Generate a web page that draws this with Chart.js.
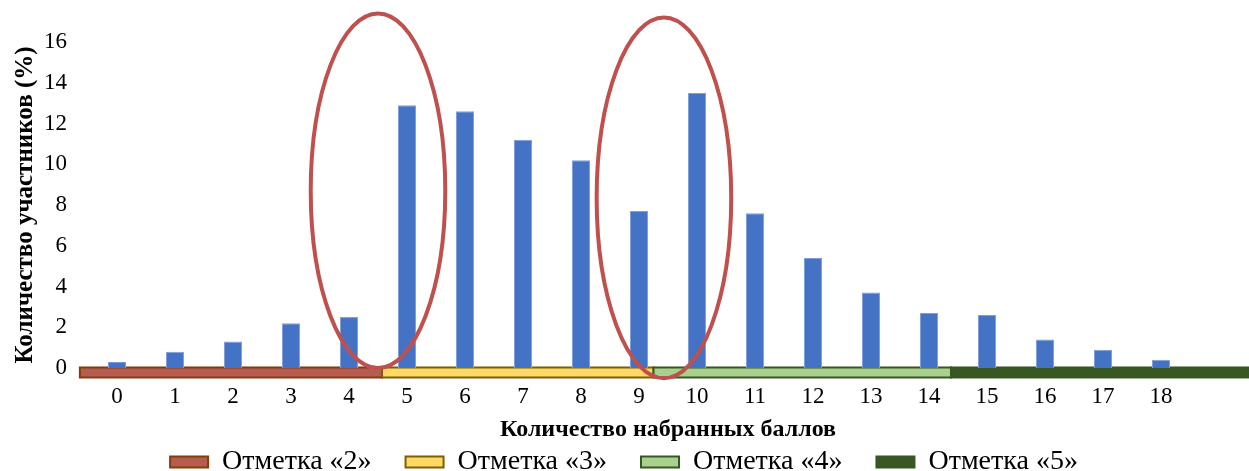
<!DOCTYPE html>
<html>
<head>
<meta charset="utf-8">
<script src="https://cdn.jsdelivr.net/npm/chart.js@4.4.1/dist/chart.umd.min.js"></script>
<style>
  html, body { margin: 0; padding: 0; background: #fff; }
  #chart-container { width: 1249px; height: 471px; }
</style>
</head>
<body>
<div id="chart-container"><canvas id="grafico"></canvas></div>
<script>
// datos del gráfico
const puntajes = ["0","1","2","3","4","5","6","7","8","9","10","11","12","13","14","15","16","17","18",""]
const participantes = [0.3, 0.8, 1.3, 2.2, 2.5, 12.9, 12.6, 11.2, 10.2, 7.7, 13.5, 7.6, 5.4, 3.7, 2.7, 2.6, 1.4, 0.9, 0.4]
const ticksY = [0, 2, 4, 6, 8, 10, 12, 14, 16]

// franjas de notas (en unidades del eje de puntajes)
const notas = ["Отметка «2»", "Отметка «3»", "Отметка «4»", "Отметка «5»"]
const notaDesde = [-0.64, 4.57, 9.25, 14.38]
const notaHasta = [4.57, 9.25, 14.38, 19.5]
const notaNivel = -0.22
const notaRelleno = ["#B65D51", "#FFD966", "#A9D18E", "#385723"]
const notaBorde = ["#843C0C", "#7F6000", "#385723", "#375623"]

// elipses rojas
const elipseX = [4.5, 9.43]
const elipseY = [8.7, 8.35]
const elipseRx = [1.16, 1.16]
const elipseRy = [8.7, 8.85]

const fuente = "'Liberation Serif', 'Times New Roman', serif"

//plugin para franjas y elipses
const pluginFranjas = {
    id: "franjas",
    beforeDatasetsDraw(chart) {
        const ctx = chart.ctx
        const x = chart.scales.xb
        const y = chart.scales.y
        const yc = y.getPixelForValue(notaNivel)
        ctx.save()
        notas.forEach((n, i) => {
            const x1 = x.getPixelForValue(notaDesde[i])
            const x2 = x.getPixelForValue(notaHasta[i])
            ctx.fillStyle = notaRelleno[i]
            ctx.strokeStyle = notaBorde[i]
            ctx.lineWidth = 2
            ctx.fillRect(x1, yc - 5, x2 - x1, 10)
            ctx.strokeRect(x1, yc - 5, x2 - x1, 10)
        })
        ctx.restore()
    },
    afterDatasetsDraw(chart) {
        const ctx = chart.ctx
        const x = chart.scales.xb
        const y = chart.scales.y
        ctx.save()
        ctx.strokeStyle = "#C0504D"
        ctx.lineWidth = 4
        elipseX.forEach((cx, i) => {
            const px = x.getPixelForValue(cx)
            const py = y.getPixelForValue(elipseY[i])
            const rx = Math.abs(x.getPixelForValue(cx + elipseRx[i]) - px)
            const ry = Math.abs(y.getPixelForValue(elipseY[i] + elipseRy[i]) - py)
            ctx.beginPath()
            ctx.ellipse(px, py, rx, ry, 0, 0, Math.PI * 2)
            ctx.stroke()
        })
        ctx.restore()
    }
}

const datasets = [{
    type: "bar",
    label: "Участники",
    data: participantes,
    backgroundColor: "#4472C4",
    borderColor: "#7F9FDB",
    borderWidth: 1,
    categoryPercentage: 1,
    barPercentage: 0.31
}]
notas.forEach((n, i) => {
    datasets.push({
        type: "line",
        label: n,
        data: [],
        backgroundColor: notaRelleno[i],
        borderColor: notaBorde[i],
        borderWidth: 2
    })
})

const config = {
    data: { labels: puntajes, datasets: datasets },
    options: {
        responsive: true,
        maintainAspectRatio: false,
        animation: false,
        devicePixelRatio: 1,
        layout: { padding: { top: 42, right: 1, left: 0, bottom: -15 } },
        plugins: {
            tooltip: { enabled: false },
            legend: {
                position: "bottom",
                labels: {
                    filter: (item) => item.datasetIndex > 0,
                    boxWidth: 38,
                    boxHeight: 11,
                    padding: 34,
                    color: "#000",
                    font: { family: fuente, size: 28 }
                }
            }
        },
        scales: {
            x: {
                grid: { display: false, drawTicks: false },
                border: { display: false },
                ticks: { color: "#000", padding: 15, maxRotation: 0, autoSkip: false, font: { family: fuente, size: 23 } },
                title: {
                    display: true,
                    text: "Количество набранных баллов",
                    color: "#000",
                    padding: { top: 0, bottom: -30 },
                    font: { family: fuente, size: 24, weight: "bold" }
                },
                afterFit: (s) => { s.height = 46 }
            },
            xb: {
                type: "linear",
                display: false,
                min: -0.5,
                max: 19.5
            },
            y: {
                min: 0,
                max: 16,
                grid: { display: false, drawTicks: false },
                border: { display: false },
                afterBuildTicks: (s) => { s.ticks = ticksY.map(v => ({ value: v })) },
                ticks: { color: "#000", padding: 21, font: { family: fuente, size: 23 } },
                title: {
                    display: true,
                    text: "Количество участников (%)",
                    color: "#000",
                    padding: { top: 11, bottom: 0 },
                    font: { family: fuente, size: 25, weight: "bold" }
                },
                afterFit: (s) => { s.width = 88 }
            }
        }
    },
    plugins: [pluginFranjas]
}

new Chart(document.getElementById("grafico"), config)
</script>
</body>
</html>
